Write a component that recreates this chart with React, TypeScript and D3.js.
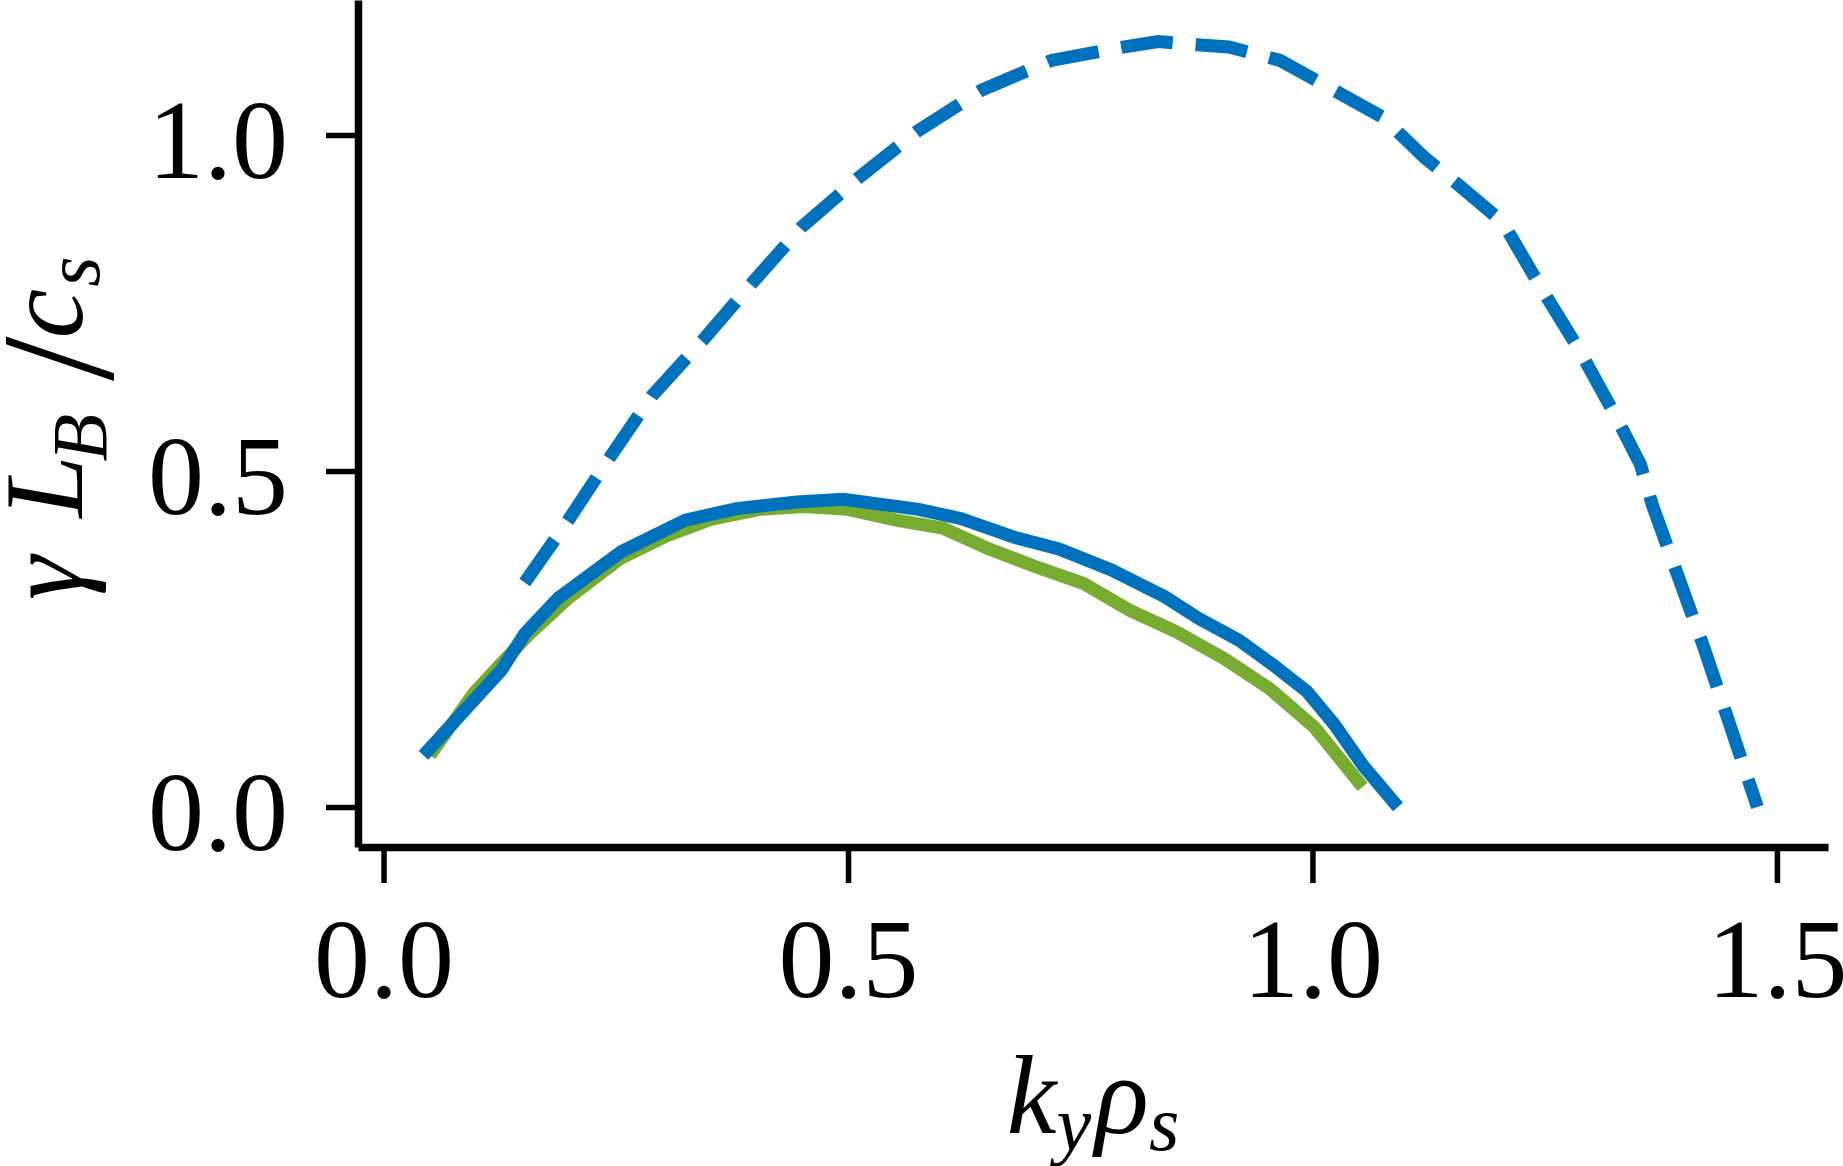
import { useEffect, useRef } from 'react'
import * as d3 from 'd3'

const W = 1843
const H = 1166

// solid blue curve
const kyBlue = [0.043, 0.127, 0.152, 0.188, 0.256, 0.325, 0.38, 0.445, 0.495, 0.576, 0.622, 0.68, 0.727, 0.783, 0.841, 0.877, 0.921, 0.958, 0.994, 1.024, 1.054, 1.092]
const gammaBlue = [0.077, 0.204, 0.258, 0.311, 0.38, 0.427, 0.444, 0.454, 0.458, 0.443, 0.429, 0.401, 0.384, 0.353, 0.313, 0.281, 0.248, 0.211, 0.172, 0.122, 0.0625, 0.0]

// green curve
const kyGreen = [0.05, 0.097, 0.127, 0.156, 0.199, 0.255, 0.304, 0.352, 0.405, 0.452, 0.5, 0.552, 0.602, 0.65, 0.701, 0.753, 0.803, 0.853, 0.905, 0.953, 1.002, 1.054]
const gammaGreen = [0.077, 0.169, 0.214, 0.256, 0.311, 0.37, 0.403, 0.428, 0.443, 0.447, 0.443, 0.427, 0.415, 0.385, 0.358, 0.333, 0.293, 0.261, 0.221, 0.177, 0.119, 0.03]

// dashed blue curve
const kyDashed = [0.152, 0.198, 0.243, 0.289, 0.344, 0.397, 0.45, 0.512, 0.575, 0.644, 0.719, 0.801, 0.834, 0.879, 0.91, 0.965, 1.075, 1.121, 1.157, 1.205, 1.245, 1.289, 1.327, 1.353, 1.366, 1.422, 1.479]
const gammaDashed = [0.334, 0.425, 0.519, 0.612, 0.695, 0.78, 0.863, 0.937, 1.006, 1.067, 1.111, 1.132, 1.139, 1.134, 1.131, 1.111, 1.027, 0.966, 0.926, 0.87, 0.775, 0.676, 0.58, 0.51, 0.449, 0.235, 0.0]

const xTicks = [0, 0.5, 1.0, 1.5]
const yTicks = [0, 0.5, 1.0]

const BLUE = '#0072BD'
const GREEN = '#77AC30'
const FONT = '"Liberation Serif", "Times New Roman", serif'

export default function App() {
  const svgRef = useRef<SVGSVGElement>(null)

  useEffect(() => {
    if (!svgRef.current) return
    const svg = d3.select(svgRef.current)
    svg.selectAll('*').remove()

    const x = d3.scaleLinear().domain([-0.0275, 1.555]).range([358, 1828])
    const y = d3.scaleLinear().domain([-0.0595, 1.2009]).range([847, 0])

    // axes
    const xAxis = svg.append('g')
      .attr('transform', `translate(0,${y.range()[0]})`)
      .call(d3.axisBottom(x).tickValues(xTicks).tickSize(36).tickSizeOuter(0).tickFormat(d3.format('.1f')))
    xAxis.select('.domain').attr('stroke', '#000').attr('stroke-width', 7.5)
    xAxis.selectAll('.tick line').attr('stroke', '#000').attr('stroke-width', 5.5)
    xAxis.selectAll('.tick text')
      .attr('y', 150)
      .attr('dy', null)
      .attr('fill', '#000')
      .style('font-family', FONT)
      .style('font-size', '112px')

    const yAxis = svg.append('g')
      .attr('transform', `translate(${x.range()[0]},0)`)
      .call(d3.axisLeft(y).tickValues(yTicks).tickSize(32).tickSizeOuter(0).tickFormat(d3.format('.1f')))
    yAxis.select('.domain').attr('stroke', '#000').attr('stroke-width', 7.5)
    yAxis.selectAll('.tick line').attr('stroke', '#000').attr('stroke-width', 5.5)
    yAxis.selectAll('.tick text')
      .attr('x', -70)
      .attr('dy', '0.38em')
      .attr('fill', '#000')
      .style('font-family', FONT)
      .style('font-size', '112px')

    const line = d3.line<[number, number]>()
      .x(d => x(d[0]))
      .y(d => y(d[1]))

    const green = kyGreen.map((k, i) => [k, gammaGreen[i]] as [number, number])
    const blue = kyBlue.map((k, i) => [k, gammaBlue[i]] as [number, number])
    const dashed = kyDashed.map((k, i) => [k, gammaDashed[i]] as [number, number])

    svg.append('path')
      .attr('d', line(green))
      .attr('fill', 'none')
      .attr('stroke', GREEN)
      .attr('stroke-width', 13)

    svg.append('path')
      .attr('d', line(blue))
      .attr('fill', 'none')
      .attr('stroke', BLUE)
      .attr('stroke-width', 13)

    svg.append('path')
      .attr('d', line(dashed))
      .attr('fill', 'none')
      .attr('stroke', BLUE)
      .attr('stroke-width', 13)
      .attr('stroke-dasharray', '52 23')

    // x label
    const xl = svg.append('text')
      .attr('x', (x.range()[0] + x.range()[1]) / 2)
      .attr('y', 1133)
      .attr('text-anchor', 'middle')
      .style('font-family', FONT)
      .style('font-style', 'italic')
      .style('font-size', '112px')
    xl.append('tspan').text('k')
    xl.append('tspan').attr('dy', 17).style('font-size', '78px').text('y')
    xl.append('tspan').attr('dy', -17).attr('dx', 4).text('ρ')
    xl.append('tspan').attr('dy', 17).style('font-size', '78px').text('s')

    // y label, reads bottom to top
    const yl = svg.append('text')
      .attr('transform', 'translate(82,600) rotate(-90)')
      .attr('text-anchor', 'start')
      .style('font-family', FONT)
      .style('font-style', 'italic')
      .style('font-size', '112px')
    yl.append('tspan').text('γ')
    yl.append('tspan').attr('dx', 38).text('L')
    yl.append('tspan').attr('dy', 24).attr('dx', -6).style('font-size', '78px').text('B')
    yl.append('tspan').attr('dy', 6).attr('dx', 33).style('font-style', 'normal').style('font-size', '160px').text('/')
    yl.append('tspan').attr('dy', -30).attr('dx', -2).text('c')
    yl.append('tspan').attr('dy', 17).attr('dx', 2).style('font-size', '78px').text('s')
  }, [])

  return (
    <svg
      ref={svgRef}
      width={W}
      height={H}
      style={{ position: 'absolute', left: 0, top: 0, background: '#fff' }}
    />
  )
}
